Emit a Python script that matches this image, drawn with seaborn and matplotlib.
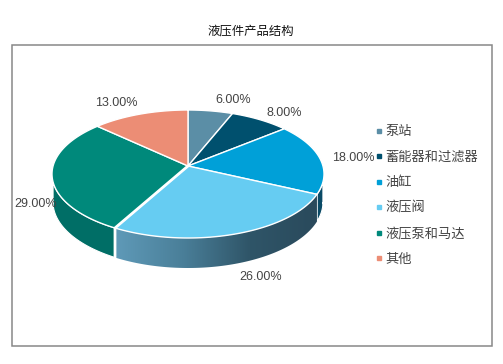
import numpy as np
import matplotlib
matplotlib.use('Agg')
import matplotlib.pyplot as plt
import seaborn as sns
from matplotlib.colors import LinearSegmentedColormap
from matplotlib.lines import Line2D
from matplotlib.patches import Polygon, Rectangle

sns.set_theme(style='white')
plt.rcParams['font.family'] = ['Noto Sans CJK SC', 'DejaVu Sans']

title = '液压件产品结构'
categories = ['泵站', '蓄能器和过滤器', '油缸', '液压阀', '液压泵和马达', '其他']
values = [6, 8, 18, 26, 29, 13]
colors = ['#5b8ea6', '#00506e', '#00a0d8', '#66ccf2', '#00897b', '#ec8d75']
side_colors = ['#3f6475', '#0a4660', '#0a4a66', '#2f5568', '#006e66', '#a5624f']

# label centres in pixels, one per slice
label_x = [233, 284, 353, 261, 36, 116]
label_y = [100, 113, 158, 277, 204, 103]

W, H = 503, 364
# top face of the pie, apex sits above the ellipse centre because of the tilt
cx, cy, rx, ry = 188, 174, 136, 64
apex_shift = -0.125
# rim of the bottom face
bx, by, brx, bry = 188, 202, 135, 66


def top_point(deg):
    # angle clockwise from 12 o'clock, projected on the tilted disc
    t = np.radians(deg)
    u, v = np.sin(t), -np.cos(t)
    a = apex_shift
    den = 1 + a * v
    return cx + rx * u * np.sqrt(1 - a ** 2) / den, cy + ry * (v + a) / den


def bottom_y(x_top):
    low = np.clip((x_top - bx) / brx, -1, 1)
    return bx + brx * low, by + bry * np.sqrt(1 - low ** 2)


def side_polygon(x_top, y_top):
    # walls: top rim going one way, bottom rim back underneath it
    x_low, y_low = bottom_y(x_top)
    return np.r_[x_top, x_low[::-1]], np.r_[y_top, y_low[::-1]]


fig = plt.figure(figsize=(W / 100, H / 100), dpi=100)
ax = fig.add_axes([0, 0, 1, 1])
ax.set_xlim(0, W)
ax.set_ylim(H, 0)
ax.axis('off')

ax.add_patch(Rectangle((12.5, 44.5), 480, 301, fill=False, ec='#888888', lw=1.1))
ax.text(251, 31, title, ha='center', va='center', fontsize=8.9, color='#111111')

gradient = LinearSegmentedColormap.from_list('side', ['#5f9ab8', '#4a7f99', '#2f5568', '#2a4a5c'])
edges = np.cumsum([0] + values) * 3.6

for i in range(len(values)):
    start, end = edges[i], edges[i + 1]
    # only the front part of the rim has a visible wall
    lo, hi = max(start, 90), min(end, 270)
    if lo >= hi:
        continue
    xt, yt = top_point(np.linspace(lo, hi, 120))
    xs, ys = side_polygon(xt, yt)
    poly = Polygon(np.c_[xs, ys], closed=True, fc=side_colors[i], ec='white', lw=0.8, zorder=2)
    ax.add_patch(poly)
    if categories[i] == '液压阀':
        poly.set_facecolor('none')
        img = ax.imshow(np.linspace(0, 1, 256)[None, :], cmap=gradient, aspect='auto',
                        extent=[xs.min(), xs.max(), ys.max(), ys.min()], zorder=2)
        img.set_clip_path(poly)
ax.set_xlim(0, W)
ax.set_ylim(H, 0)

ax0, ay0 = cx, cy + ry * apex_shift
for i in range(len(values)):
    xt, yt = top_point(np.linspace(edges[i], edges[i + 1], 120))
    ax.add_patch(Polygon(np.c_[np.r_[ax0, xt], np.r_[ay0, yt]], closed=True,
                         fc=colors[i], ec='white', lw=1.0, joinstyle='round', zorder=3))

# the valve slice is pulled out a little, which leaves a wider white seam
sx, sy = top_point(edges[categories.index('液压阀') + 1])
lx, ly = bottom_y(sx)
ax.plot([ax0, sx, lx], [ay0, sy, ly], color='white', lw=2.0, zorder=3.5)

for x, y, v in zip(label_x, label_y, values):
    ax.text(x, y, f'{v:.2f}%', ha='center', va='center', fontsize=9,
            color='#444444', family=['Liberation Sans', 'DejaVu Sans'], zorder=4)

handles = [Line2D([], [], ls='none', marker='s', ms=3.4, mfc=c, mec=c) for c in colors]
ax.legend(handles, categories, loc='center left', bbox_to_anchor=(373.5 / W, 1 - 195.5 / H),
          frameon=False, fontsize=9.5, labelcolor='#444444', handlelength=0.8, handletextpad=0.1,
          labelspacing=0.95, borderpad=0, borderaxespad=0)

fig.savefig('out.png', dpi=100, facecolor='white')
